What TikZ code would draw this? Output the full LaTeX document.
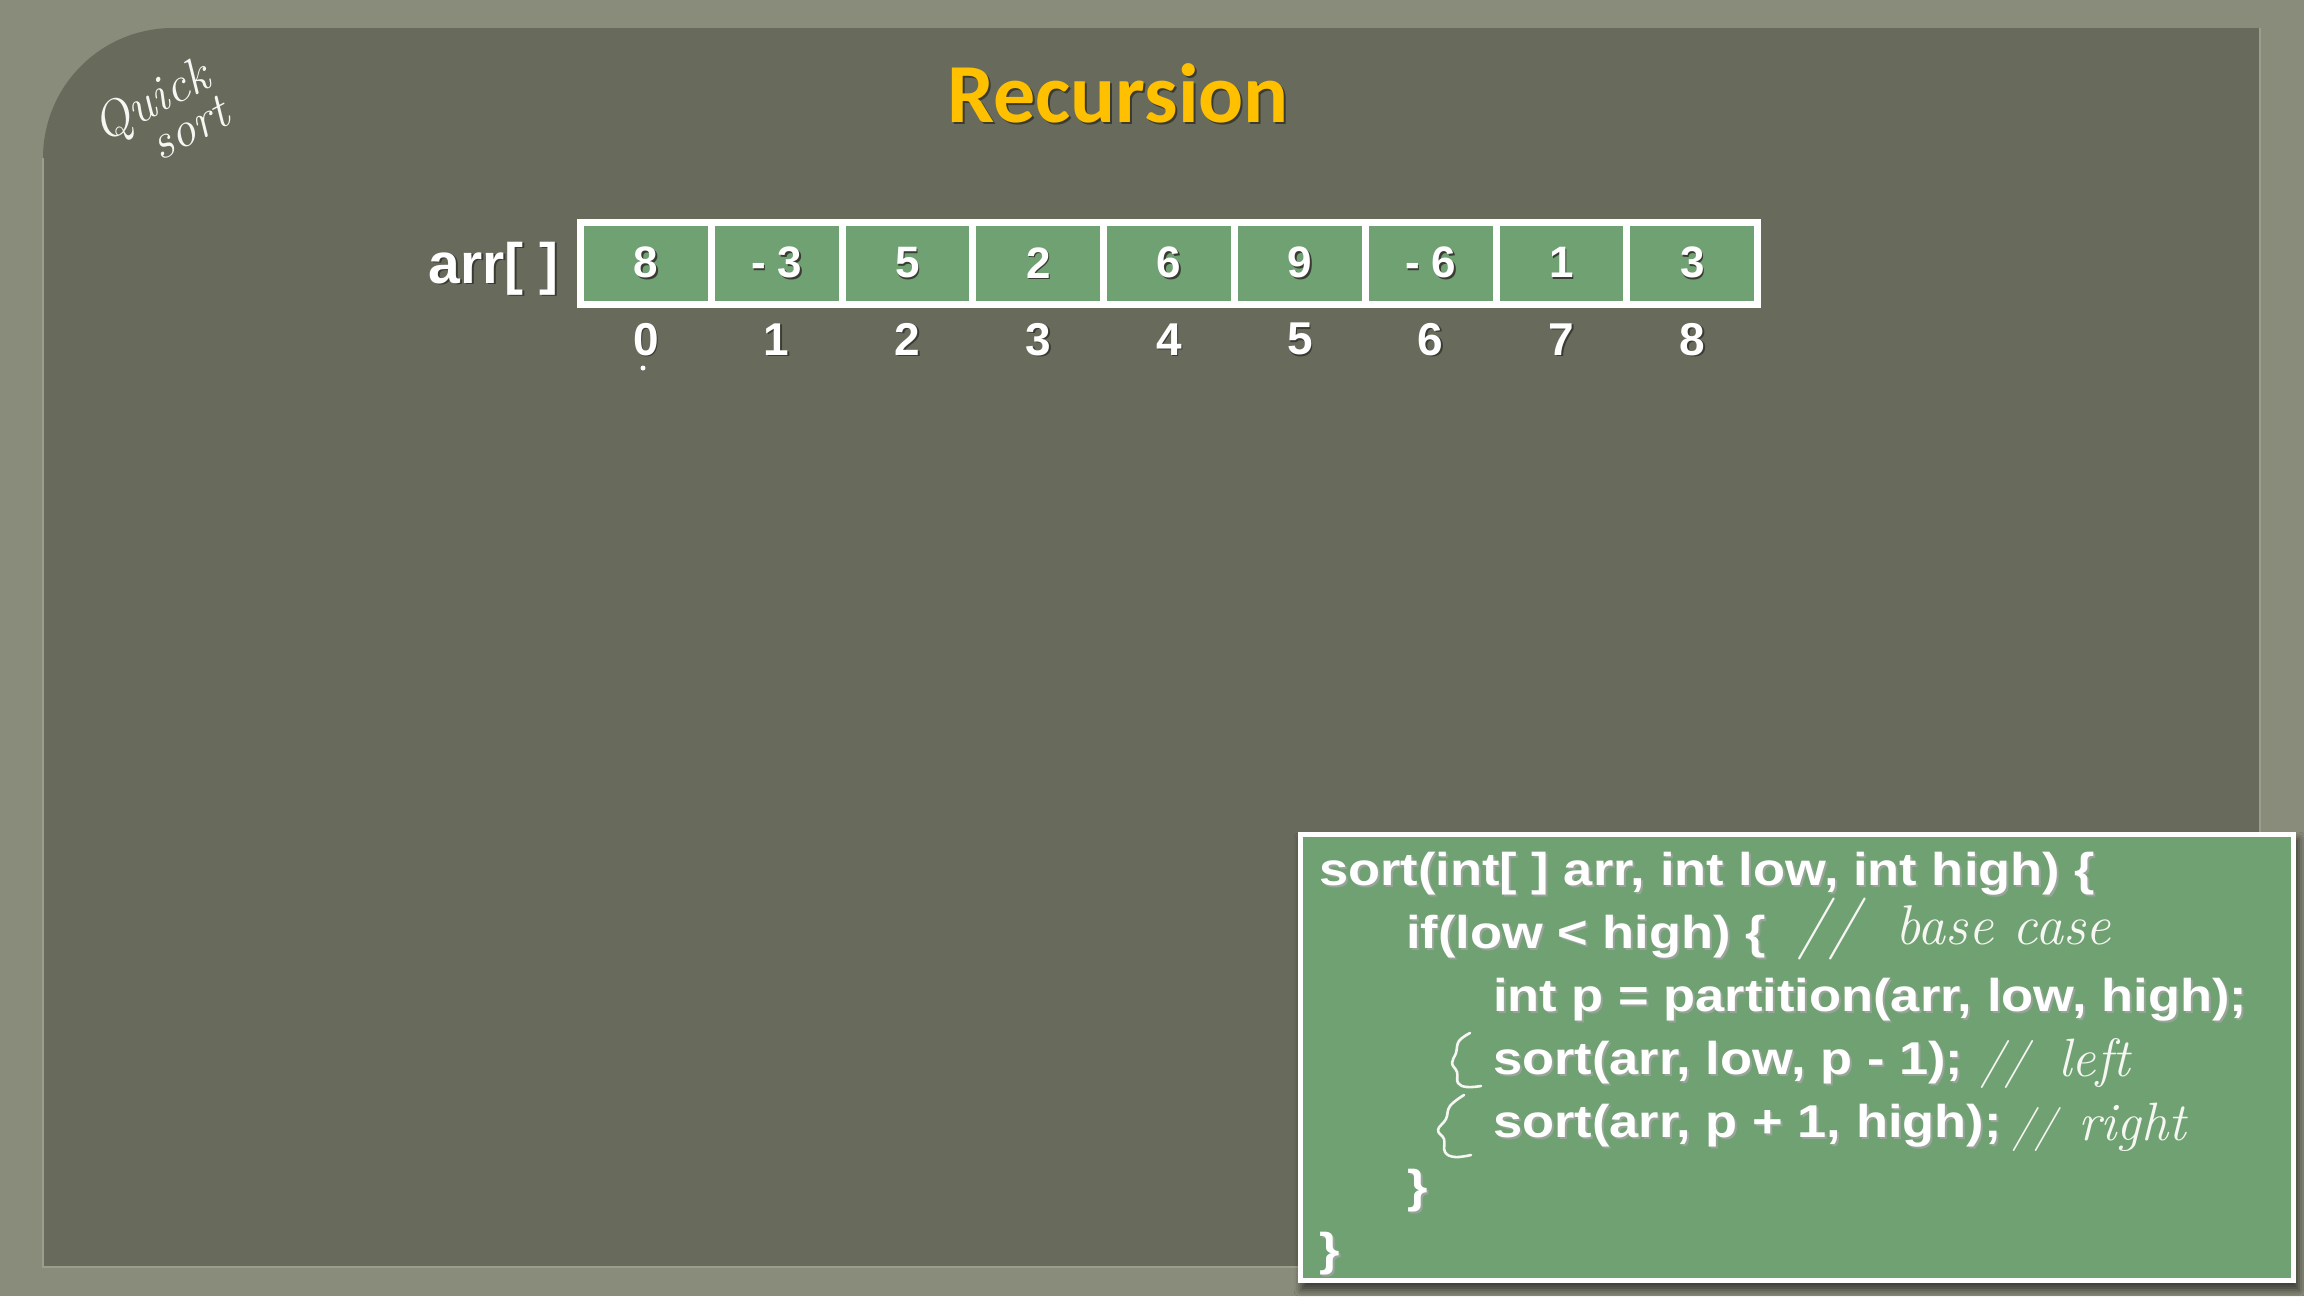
\documentclass[tikz,border=0pt]{standalone}
\usepackage{fontspec}
\usetikzlibrary{shadows.blur}
\newfontfamily\arialf{Liberation Sans}
\newfontfamily\codef{Liberation Sans}[FakeStretch=1.14]
\newfontfamily\titlef{Carlito}

\definecolor{framegray}{HTML}{8A8C7B}
\definecolor{panelgray}{HTML}{686A5B}
\definecolor{panelrim}{HTML}{9B9E8C}
\definecolor{cellgreen}{HTML}{70A173}
\definecolor{titlegold}{HTML}{FFC000}
\definecolor{darkshade}{HTML}{3A3C33}
\definecolor{emboss}{HTML}{98A498}
\definecolor{chalk}{HTML}{F6F6F2}

% text with an offset copy underneath
\newcommand{\dropshadow}[3]{\leavevmode\rlap{\kern#2\raisebox{-#2}{\textcolor{#1}{#3}}}#3}

\tikzset{
  cellbox/.style={fill=cellgreen, minimum width=123.8pt, minimum height=75pt,
    inner sep=0pt, text=white, font=\arialf\bfseries\fontsize{44}{44}\selectfont},
  indexlabel/.style={inner sep=0pt, text=white, font=\arialf\bfseries\fontsize{46}{46}\selectfont},
  codeline/.style={anchor=base west, inner sep=0pt, text=white,
    font=\codef\bfseries\fontsize{46}{46}\selectfont},
  handnote/.style={inner sep=0pt, text=chalk, font=\rmfamily\itshape},
  handstroke/.style={draw=chalk, line width=2.6pt, line cap=round, line join=round},
}

\begin{document}
\begin{tikzpicture}[x=1pt, y=-1pt]
  % page and inset panel
  \fill[framegray] (0,0) rectangle (2304,1296);
  \useasboundingbox (0,0) rectangle (2304,1296);
  \fill[panelgray] (2260,1267) -- (43,1267) -- (43,158)
      .. controls (43,86) and (101,28) .. (173,28) -- (2260,28) -- cycle;
  \draw[panelrim, line width=2pt] (43,158) -- (43,1267) -- (2260,1267) -- (2260,28);

  % title
  \node[anchor=base, inner sep=0pt, text=titlegold,
        font=\titlef\bfseries\fontsize{84}{84}\selectfont] (title) at (1118,122)
        {\dropshadow{darkshade}{2pt}{Recursion}};

  % array
  \node[anchor=east, inner sep=0pt, text=white,
        font=\arialf\bfseries\fontsize{57}{57}\selectfont] (arrlabel) at (559,269.5)
        {\dropshadow{darkshade}{1.5pt}{arr[ ]}};
  \node[fill=white, minimum width=1184pt, minimum height=89pt, inner sep=0pt]
        (arrframe) at (1169,263.5) {};
  \foreach \v [count=\i from 0] in {8,{- 3},5,2,6,9,{- 6},1,3} {
    \node[cellbox] (c\i) at (645.9+130.8*\i,263.5) {\dropshadow{darkshade}{1.5pt}{\v}};
    \node[indexlabel] (i\i) at (645.9+130.8*\i,340) {\dropshadow{darkshade}{1.5pt}{\i}};
  }
  \node[circle, fill=white, inner sep=0pt, minimum size=5pt] (mark0) at (643,368) {};

  % handwritten heading
  \node[handnote, rotate=28, align=left,
        font=\rmfamily\itshape\fontsize{50}{40}\selectfont]
        (heading) at (160,118) {Quick\\\hspace*{42pt}sort};

  % code panel
  \node[fill=white, minimum width=998pt, minimum height=451pt, inner sep=0pt,
        blur shadow={shadow xshift=3pt, shadow yshift=-7pt, shadow blur radius=7pt,
                     shadow opacity=55}]
        (codebox) at (1797,1057.5) {};
  \node[fill=cellgreen, minimum width=988pt, minimum height=441pt, inner sep=0pt]
        (codefill) at (codebox.center) {};

  \node[codeline] (l1) at (1319,885) {\dropshadow{emboss}{2pt}{sort(int[ ] arr, int low, int high) \{}};
  \node[codeline] (l2) at (1406,948) {\dropshadow{emboss}{2pt}{if(low < high) \{}};
  \node[codeline] (l3) at (1493,1011) {\dropshadow{emboss}{2pt}{int p = partition(arr, low, high);}};
  \node[codeline] (l4) at (1493,1074) {\dropshadow{emboss}{2pt}{sort(arr, low, p - 1);}};
  \node[codeline] (l5) at (1493,1137) {\dropshadow{emboss}{2pt}{sort(arr, p + 1, high);}};
  \node[codeline] (l6) at (1407,1202) {\dropshadow{emboss}{2pt}{\}}};
  \node[codeline] (l7) at (1319,1265) {\dropshadow{emboss}{2pt}{\}}};

  % handwritten comments
  \node[handnote, anchor=base west] (cmt2) at (1797,944)
        {{\fontsize{62}{62}\selectfont //}\hspace{36pt}{\fontsize{56}{56}\selectfont base case}};
  \node[handnote, anchor=base west] (cmt4) at (1980,1076)
        {{\fontsize{48}{48}\selectfont //}\hspace{30pt}{\fontsize{54}{54}\selectfont left}};
  \node[handnote, anchor=base west] (cmt5) at (2012,1140)
        {{\fontsize{44}{44}\selectfont //}\hspace{22pt}{\fontsize{54}{54}\selectfont right}};

  % handwritten braces in front of the two recursive calls
  \draw[handstroke] plot[smooth, tension=0.7] coordinates
        {(1470,1033) (1459,1041) (1456,1053) (1452,1063) (1457,1072) (1458,1083) (1467,1087) (1481,1086)};
  \draw[handstroke] plot[smooth, tension=0.7] coordinates
        {(1464,1095) (1450,1106) (1446,1119) (1438,1130) (1444,1139) (1445,1152) (1455,1157) (1471,1155)};
\end{tikzpicture}
\end{document}
